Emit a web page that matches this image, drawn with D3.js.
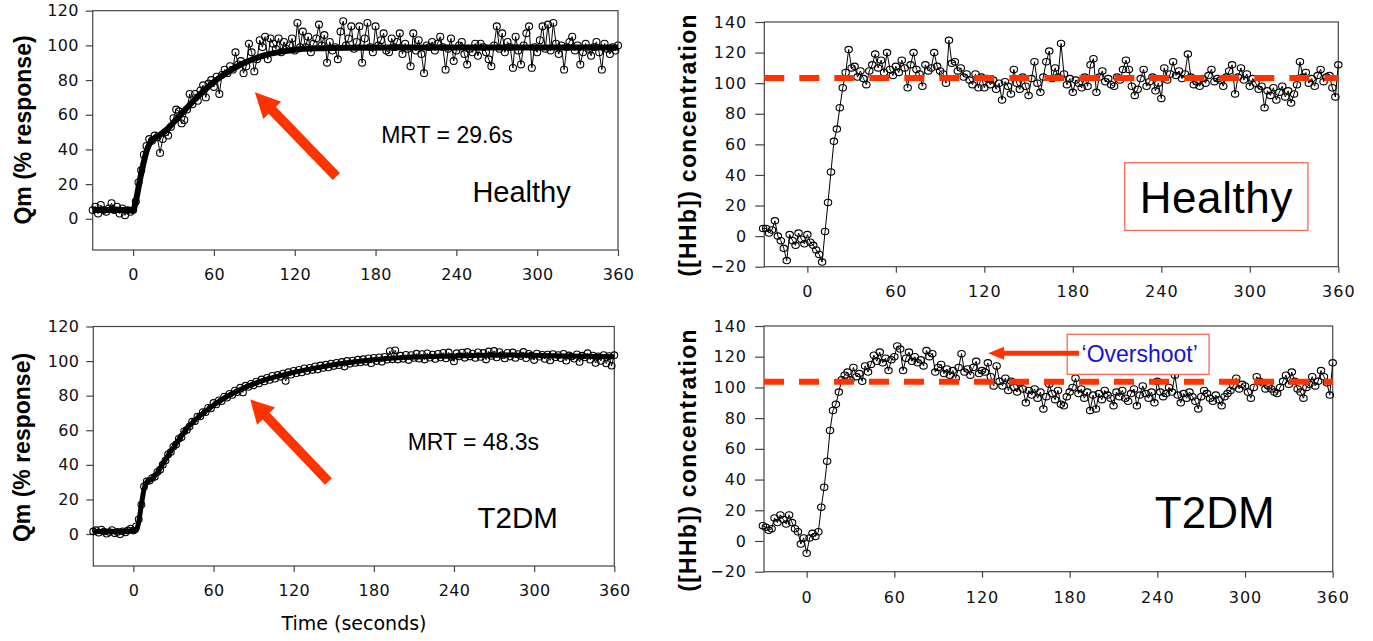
<!DOCTYPE html>
<html>
<head>
<meta charset="utf-8">
<script src="https://cdn.jsdelivr.net/npm/d3@7"></script>
<style>
  body { margin: 0; background: #fff; }
  svg text { font-family: "Liberation Sans", Arial, Helvetica, sans-serif; }
  .ylab { font-weight: bold; font-size: 23px; }
</style>
</head>
<body>
<svg id="fig" width="1373" height="641"></svg>
<script>
// one sample every 2 s, -30 .. 360 s
var time = d3.range(-30, 361, 2);

var xTicks = [0, 60, 120, 180, 240, 300, 360];
var yTicksQm = [0, 20, 40, 60, 80, 100, 120];
var yTicksHHb = [-20, 0, 20, 40, 60, 80, 100, 120, 140];

// Qm (% response), healthy
var qmHealthy = [
  5, 7, 3, 8, 5, 4, 6, 9, 5, 7,
  3, 6, 2, 5, 4, 5, 10, 21, 28, 37,
  42, 46, 45, 48, 47, 38, 46, 50, 48, 53,
  58, 63, 62, 55, 57, 63, 72, 66, 72, 68,
  74, 77, 70, 78, 80, 76, 82, 72, 83, 86,
  84, 88, 86, 96, 89, 91, 84, 88, 101, 96,
  85, 92, 103, 99, 105, 92, 104, 101, 98, 104,
  96, 102, 98, 100, 104, 97, 113, 99, 108, 99,
  105, 96, 101, 104, 112, 100, 106, 90, 102, 97,
  99, 92, 108, 114, 100, 104, 111, 98, 102, 111,
  90, 104, 113, 99, 96, 111, 100, 103, 107, 97,
  96, 104, 99, 102, 107, 95, 101, 98, 88, 107,
  97, 103, 95, 84, 100, 99, 102, 97, 101, 105,
  99, 86, 98, 104, 91, 97, 100, 102, 95, 89,
  98, 96, 101, 94, 101, 99, 96, 92, 88, 100,
  111, 98, 107, 96, 102, 99, 87, 105, 97, 89,
  100, 107, 111, 87, 99, 96, 103, 111, 98, 112,
  97, 113, 101, 95, 100, 86, 99, 102, 105, 97,
  100, 89, 96, 101, 98, 94, 99, 102, 96, 86,
  101, 98, 95, 99, 97, 100
];
var fitHealthyT = [-30, 0, 2, 4, 6, 8, 10, 12, 15, 20, 25, 30, 40, 50, 60, 70, 80, 90, 100, 110, 120, 140, 160, 200, 360];
var fitHealthyV = [5, 5, 10, 18, 26, 33, 39, 43, 46, 48.5, 51.5, 55.5, 64, 72, 79, 84.5, 89, 92.3, 94.8, 96.4, 97.5, 98.4, 98.7, 98.8, 98.8];

// Qm (% response), T2DM
var qmT2DM = [
  1.5, 2.2, 0.8, 2.6, 1.4, 0.2, 1.1, 2.3, 0.4, 1.2,
  -0.2, 1.6, 0.9, 2.1, 3.2, 2.0, 4.5, 8.5, 17, 27.5,
  30.5, 30.8, 32.4, 33.1, 35.8, 37.2, 40.1, 42.5, 46, 47.4,
  50.6, 51.8, 55.1, 56, 59.4, 60.2, 62.1, 65, 65.2, 67.9,
  68, 70.5, 70.4, 73, 72.6, 75.8, 74.9, 77.3, 76.8, 79.5,
  78.8, 81.1, 80.4, 83, 82.1, 84.6, 81.9, 85.8, 85, 86.9,
  86, 88.2, 87.1, 89.4, 88.2, 90.3, 89.1, 91.5, 89.8, 92,
  90.9, 92.8, 88.5, 93.6, 92.1, 94.4, 93, 95, 93.4, 95.8,
  94.2, 96.1, 94.8, 97, 95.1, 97.5, 96, 97.9, 96.3, 98.6,
  97.1, 99, 97.6, 99.5, 96.8, 100.1, 98.4, 100.3, 98.9, 100.8,
  99.2, 101.1, 99.6, 101.6, 98.8, 101.9, 100, 102.2, 99.6, 102.5,
  100.8, 105.8, 101, 106.2, 100.9, 103.1, 101.3, 103.6, 100.6, 103.5,
  101.8, 104.3, 101.4, 104.1, 100.9, 104.5, 102, 103.8, 101.2, 104.2,
  102.1, 104.8, 101.5, 105, 102.3, 99.8, 104.6, 102.7, 104.9, 101.9,
  105.3, 102.6, 104.4, 101.8, 105.1, 102.4, 104.7, 100.9, 105.6, 103,
  105.9, 102.1, 105.2, 103.4, 101.5, 104.8, 102.6, 105, 101.8, 104.1,
  102.9, 105.3, 101.7, 104.2, 103.1, 100.6, 104.4, 102.5, 103.6, 101.2,
  103.8, 100.4, 104.1, 102.2, 103.5, 101.7, 104.2, 100.2, 103.3, 102.6,
  101.4, 103.9, 99.5, 103.1, 102.1, 104.6, 100.8, 103.2, 98.9, 102.8,
  100.1, 103.5, 98.6, 102.9, 97.3, 103.4
];
var fitT2T = [-30, 2, 4, 6, 8, 10, 14, 18, 22, 26, 30, 40, 50, 60, 70, 80, 90, 100, 120, 140, 160, 180, 200, 240, 280, 320, 360];
var fitT2V = [1.3, 2, 7, 17, 26, 30, 32, 35.5, 40.5, 45.5, 50, 61, 68.5, 74.5, 79.5, 83.5, 86.8, 89.5, 93.5, 96.5, 99, 100.8, 102, 103, 103.5, 103, 102.5];

// [HHb], healthy
var hhbHealthy = [
  5, 5, 2, 4, 10, 0, -3, -8, -16, 1,
  -3, -6, 2, -2, -5, 1, -4, -6, -9, -12,
  -17, 3, 22, 42, 62, 70, 84, 97, 107, 122,
  110, 111, 104, 108, 103, 99, 108, 112, 119, 110,
  115, 107, 120, 109, 105, 111, 107, 115, 110, 97,
  112, 120, 109, 106, 98, 112, 108, 110, 120, 111,
  108, 106, 100, 128, 113, 114, 108, 110, 104, 106,
  102, 99, 106, 97, 104, 97, 103, 99, 102, 96,
  100, 89, 101, 98, 93, 109, 100, 96, 104, 98,
  92, 103, 114, 100, 94, 104, 114, 121, 103, 110,
  104, 126, 106, 99, 103, 94, 102, 100, 97, 104,
  98, 112, 116, 94, 104, 108, 101, 103, 99, 98,
  104, 102, 109, 115, 109, 98, 92, 96, 103, 109,
  98, 101, 104, 95, 100, 90, 110, 102, 106, 114,
  105, 108, 103, 106, 119, 104, 99, 101, 98, 103,
  100, 105, 109, 101, 103, 102, 98, 104, 108, 112,
  93, 104, 110, 102, 106, 98, 103, 100, 96, 98,
  84, 95, 92, 97, 89, 94, 98, 91, 95, 87,
  93, 99, 114, 104, 107, 100, 103, 98, 105, 109,
  101, 104, 105, 97, 91, 112
];

// [HHb], T2DM
var hhbT2DM = [
  10, 9, 7, 8, 15, 12, 17, 14, 11, 17,
  12, 8, 6, -2, 2, -8, 2, 5, 3, 6,
  22, 35, 52, 72, 85, 89, 97, 105, 108, 110,
  105, 113, 107, 109, 104, 114, 110, 115, 121, 117,
  123, 116, 119, 111, 118, 120, 127, 125, 111, 119,
  123, 117, 120, 116, 118, 114, 124, 120, 122, 110,
  113, 115, 109, 112, 108, 111, 106, 113, 122, 110,
  112, 108, 113, 117, 109, 111, 110, 116, 107, 101,
  114, 104, 101, 106, 98, 104, 100, 97, 103, 99,
  90, 98, 95, 99, 93, 97, 86, 94, 102, 96,
  92, 98, 89, 88, 94, 97, 100, 106, 96, 99,
  93, 97, 85, 95, 86, 96, 92, 98, 95, 93,
  88, 97, 94, 98, 93, 91, 96, 99, 88, 95,
  101, 96, 93, 97, 90, 104, 97, 94, 96, 100,
  97, 108, 95, 90, 96, 93, 97, 94, 91, 86,
  94, 98, 96, 93, 91, 95, 92, 88, 94, 96,
  98, 101, 106, 99, 102, 101, 97, 93, 100, 107,
  104, 103, 99, 101, 99, 97, 96, 100, 104, 108,
  102, 110, 104, 99, 97, 93, 100, 102, 107, 101,
  104, 111, 107, 103, 95, 116
];

// steady-state level (dashed), healthy / T2DM
var steadyLevel = [103.4, 103.7];

var red = "#ff3300";
var svg = d3.select("#fig");

function cleanAxis(g, spacing) {
  g.select(".domain").remove();
  g.selectAll(".tick line").attr("stroke", "#444").attr("stroke-width", 1.2);
  g.selectAll(".tick text")
    .style("fill", "#111")
    .style("font-family", "'DejaVu Sans', sans-serif")
    .style("font-size", "16px")
    .style("letter-spacing", spacing + "px");
}

function panel(p) {
  var x = d3.scaleLinear().domain(p.xDom).range([p.left, p.right]);
  var y = d3.scaleLinear().domain(p.yDom).range([p.bottom, p.top]);
  var g = svg.append("g");

  g.append("rect")
    .attr("x", p.left).attr("y", p.top)
    .attr("width", p.right - p.left).attr("height", p.bottom - p.top)
    .attr("fill", "none").attr("stroke", "#444").attr("stroke-width", 1.2);

  g.append("g")
    .attr("transform", "translate(0," + p.bottom + ")")
    .call(d3.axisBottom(x).tickValues(xTicks).tickSize(6).tickPadding(p.xPad))
    .call(cleanAxis, p.spacing);

  g.append("g")
    .attr("transform", "translate(" + p.left + ",0)")
    .call(d3.axisLeft(y).tickValues(p.yTicks).tickSize(p.tick).tickPadding(p.yPad))
    .call(cleanAxis, p.spacing);

  g.append("text").attr("class", "ylab")
    .attr("transform", "translate(" + p.labX + "," + p.labY + ") rotate(-90)")
    .attr("text-anchor", "middle").attr("dominant-baseline", "central")
    .style("letter-spacing", p.labSpacing + "px")
    .text(p.label);

  return { x: x, y: y, g: g };
}

function series(P, values, r) {
  var pts = time.map(function(t, i) { return [t, values[i]]; });
  P.g.append("path").datum(pts)
    .attr("d", d3.line().x(function(d) { return P.x(d[0]); }).y(function(d) { return P.y(d[1]); }))
    .attr("fill", "none").attr("stroke", "#000").attr("stroke-width", 1);
  P.g.append("g").selectAll("ellipse").data(pts).enter().append("ellipse")
    .attr("cx", function(d) { return P.x(d[0]); })
    .attr("cy", function(d) { return P.y(d[1]); })
    .attr("rx", r[0]).attr("ry", r[1])
    .attr("fill", "none").attr("stroke", "#000").attr("stroke-width", 1.1);
}

function fit(P, ts, vs, w) {
  var pts = ts.map(function(t, i) { return [t, vs[i]]; });
  P.g.append("path").datum(pts)
    .attr("d", d3.line().curve(d3.curveMonotoneX)
      .x(function(d) { return P.x(d[0]); }).y(function(d) { return P.y(d[1]); }))
    .attr("fill", "none").attr("stroke", "#000").attr("stroke-width", w);
}

function dashed(P, level) {
  P.g.append("line")
    .attr("x1", P.x(P.x.domain()[0])).attr("x2", P.x(360))
    .attr("y1", P.y(level)).attr("y2", P.y(level))
    .attr("stroke", red).attr("stroke-width", 6).attr("stroke-dasharray", "20,15");
}

function arrow(P, tip, tail, w, hl, hw) {
  var tx = P.x(tip[0]), ty = P.y(tip[1]), sx = P.x(tail[0]), sy = P.y(tail[1]);
  var dx = tx - sx, dy = ty - sy, L = Math.hypot(dx, dy);
  var ux = dx / L, uy = dy / L, nx = -uy, ny = ux;
  var bx = tx - ux * hl, by = ty - uy * hl;
  var pts = [
    [sx + nx * w / 2, sy + ny * w / 2],
    [bx + nx * w / 2, by + ny * w / 2],
    [bx + nx * hw, by + ny * hw],
    [tx, ty],
    [bx - nx * hw, by - ny * hw],
    [bx - nx * w / 2, by - ny * w / 2],
    [sx - nx * w / 2, sy - ny * w / 2]
  ];
  P.g.append("polygon").attr("points", pts.map(function(p) { return p.join(","); }).join(" "))
    .attr("fill", red);
}

function note(P, t, v, txt, size, anchor, color) {
  return P.g.append("text")
    .attr("x", P.x(t)).attr("y", P.y(v))
    .attr("text-anchor", anchor || "start")
    .style("font-size", size + "px")
    .style("fill", color || "#000")
    .text(txt);
}

function box(P, t0, t1, v0, v1, color) {
  P.g.append("rect")
    .attr("x", P.x(t0)).attr("y", P.y(v0))
    .attr("width", P.x(t1) - P.x(t0)).attr("height", P.y(v1) - P.y(v0))
    .attr("fill", "#fff").attr("stroke", color).attr("stroke-width", 1.3);
}

// ---- top left: Qm healthy
var A = panel({ left: 92.7, right: 618, top: 10.7, bottom: 250, xDom: [-30, 360], yDom: [-18, 120],
  yTicks: yTicksQm, tick: 7, yPad: 7, xPad: 12.5, spacing: 0.3,
  label: "Qm (% response)", labX: 22.5, labY: 130, labSpacing: 0 });
series(A, qmHealthy, [3.5, 3.4]);
fit(A, fitHealthyT, fitHealthyV, 6);
arrow(A, [90.4, 72.9], [150.9, 24.4], 10, 25, 12.5);
note(A, 184.2, 43.7, "MRT = 29.6s", 23);
note(A, 251.9, 9.9, "Healthy", 29);

// ---- bottom left: Qm T2DM
var C = panel({ left: 93.3, right: 614.3, top: 326.5, bottom: 566, xDom: [-30, 360], yDom: [-18.5, 120],
  yTicks: yTicksQm, tick: 7, yPad: 7, xPad: 12.5, spacing: 0.3,
  label: "Qm (% response)", labX: 22, labY: 447.5, labSpacing: 0 });
series(C, qmT2DM, [3.4, 3.3]);
fit(C, fitT2T, fitT2V, 5);
arrow(C, [87.5, 77.8], [146, 30.4], 9.5, 23, 12.5);
note(C, 205.3, 48.8, "MRT = 48.3s", 23);
note(C, 257.6, 3.3, "T2DM", 29.5);

svg.append("text")
  .attr("x", 354).attr("y", 630).attr("text-anchor", "middle")
  .style("font-family", "'DejaVu Sans', sans-serif").style("font-size", "19px")
  .text("Time (seconds)");

// ---- top right: [HHb] healthy
var B = panel({ left: 764.3, right: 1338.3, top: 22, bottom: 266.7, xDom: [-29.2, 360], yDom: [-20, 140],
  yTicks: yTicksHHb, tick: 9, yPad: 8, xPad: 13, spacing: 1,
  label: "([HHb]) concentration", labX: 688, labY: 145, labSpacing: 1.3 });
series(B, hhbHealthy, [3.7, 3.2]);
dashed(B, steadyLevel[0]);
box(B, 215.2, 339.4, 48, 3.7, "#f46a55");
note(B, 277.3, 15.3, "Healthy", 44, "middle").style("letter-spacing", "0.6px");

// ---- bottom right: [HHb] T2DM
var D = panel({ left: 764, right: 1332.7, top: 326, bottom: 571.7, xDom: [-29.2, 360], yDom: [-20, 140],
  yTicks: yTicksHHb, tick: 9, yPad: 8, xPad: 14, spacing: 1,
  label: "([HHb]) concentration", labX: 688, labY: 460, labSpacing: 1.3 });
series(D, hhbT2DM, [3.7, 3.2]);
dashed(D, steadyLevel[1]);
box(D, 178.3, 275.4, 134.6, 108.5, "#f46a55");
arrow(D, [124.2, 122.2], [186.5, 122.2], 5, 16, 6.5);
note(D, 188.1, 116.7, "\u2018Overshoot\u2019", 23, "start", "#1414d2");
note(D, 238.3, 8.3, "T2DM", 44);
</script>
</body>
</html>
